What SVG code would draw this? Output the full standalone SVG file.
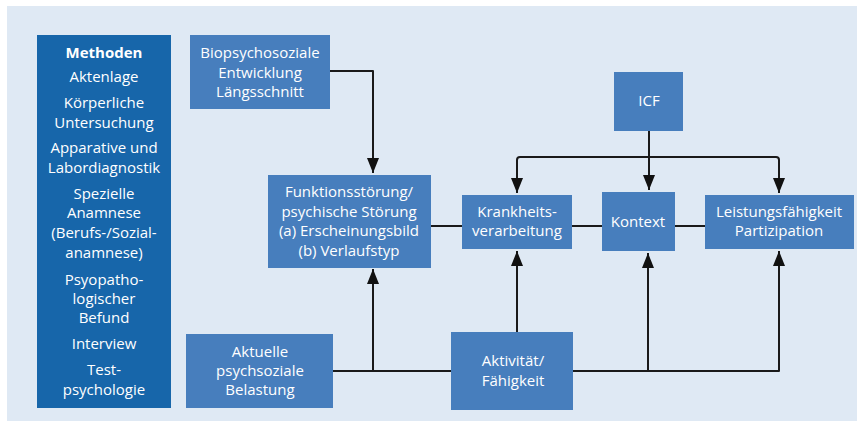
<svg xmlns="http://www.w3.org/2000/svg" width="857" height="421" viewBox="0 0 857 421">
<style>
.box{fill:#477ebd}
.mbox{fill:#1766aa}
.t{font-family:"Open Sans","Noto Sans",sans-serif;font-size:15px;fill:#ffffff;text-anchor:middle}
.b{font-weight:bold}
.c{fill:none;stroke:#1a1a1a;stroke-width:2;stroke-linejoin:round}
</style>
<defs>
<marker id="ad" markerUnits="userSpaceOnUse" markerWidth="16" markerHeight="12" viewBox="0 0 16 12" refX="15" refY="6" orient="auto">
<path d="M0,0 L15,6 L0,12 Z" fill="#111111"/>
</marker>
</defs>
<rect x="7" y="6" width="850" height="415" fill="#dfe9f4"/>

<g id="connectors">
<path class="c" d="M330,71 H373 V173" marker-end="url(#ad)"/>
<path class="c" d="M333,371 H451"/>
<path class="c" d="M373,371 V269" marker-end="url(#ad)"/>
<path class="c" d="M573,371 H779 V251" marker-end="url(#ad)"/>
<path class="c" d="M648,371 V253" marker-end="url(#ad)"/>
<path class="c" d="M517,332 V251" marker-end="url(#ad)"/>
<path class="c" d="M649,131 V190" marker-end="url(#ad)"/>
<path class="c" d="M517,193 V160 Q517,157 520,157 H776 Q779,157 779,160 V193" />
<path class="c" d="M517,180 V193" marker-end="url(#ad)"/>
<path class="c" d="M779,180 V193" marker-end="url(#ad)"/>
<path class="c" d="M431,226 H462 M572,226 H602 M675,226 H705"/>
</g>

<g id="methoden">
<rect class="mbox" x="37" y="35" width="134" height="373"/>
<text class="t b" x="104" y="58">Methoden</text>
<text class="t" x="104" y="82">Aktenlage</text>
<text class="t" x="104" y="108">Körperliche</text>
<text class="t" x="104" y="128">Untersuchung</text>
<text class="t" x="104" y="153">Apparative und</text>
<text class="t" x="104" y="173">Labordiagnostik</text>
<text class="t" x="104" y="199">Spezielle</text>
<text class="t" x="104" y="218">Anamnese</text>
<text class="t" x="104" y="238">(Berufs-/Sozial-</text>
<text class="t" x="104" y="258">anamnese)</text>
<text class="t" x="104" y="285">Psyopatho-</text>
<text class="t" x="104" y="304">logischer</text>
<text class="t" x="104" y="323">Befund</text>
<text class="t" x="104" y="349">Interview</text>
<text class="t" x="104" y="375">Test-</text>
<text class="t" x="104" y="395">psychologie</text>
</g>

<g id="bio">
<rect class="box" x="190" y="35" width="140" height="74"/>
<text class="t" x="260" y="58">Biopsychosoziale</text>
<text class="t" x="260" y="78">Entwicklung</text>
<text class="t" x="260" y="97">Längsschnitt</text>
</g>

<g id="funktion">
<rect class="box" x="268" y="175" width="163" height="93"/>
<text class="t" x="349" y="197">Funktionsstörung/</text>
<text class="t" x="349" y="217">psychische Störung</text>
<text class="t" x="349" y="236">(a) Erscheinungsbild</text>
<text class="t" x="349" y="256">(b) Verlaufstyp</text>
</g>

<g id="icf">
<rect class="box" x="614" y="72" width="69" height="59"/>
<text class="t" x="649" y="106">ICF</text>
</g>

<g id="krankheit">
<rect class="box" x="462" y="195" width="110" height="54"/>
<text class="t" x="517" y="217">Krankheits-</text>
<text class="t" x="517" y="236">verarbeitung</text>
</g>

<g id="kontext">
<rect class="box" x="602" y="192" width="73" height="59"/>
<text class="t" x="638" y="227">Kontext</text>
</g>

<g id="leistung">
<rect class="box" x="705" y="195" width="149" height="54"/>
<text class="t" x="779" y="217">Leistungsfähigkeit</text>
<text class="t" x="779" y="236">Partizipation</text>
</g>

<g id="aktuelle">
<rect class="box" x="186" y="334" width="147" height="74"/>
<text class="t" x="260" y="357">Aktuelle</text>
<text class="t" x="260" y="376">psychsoziale</text>
<text class="t" x="260" y="395">Belastung</text>
</g>

<g id="aktivitaet">
<rect class="box" x="451" y="332" width="122" height="78"/>
<text class="t" x="513" y="366">Aktivität/</text>
<text class="t" x="513" y="386">Fähigkeit</text>
</g>
</svg>
